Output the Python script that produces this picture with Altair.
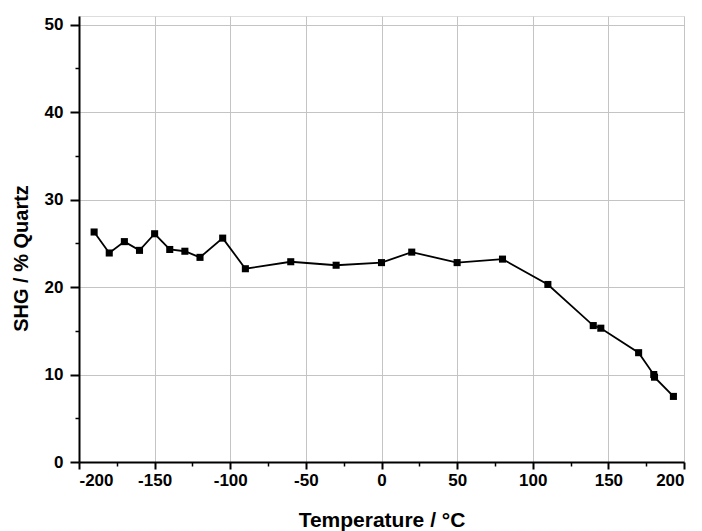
import altair as alt
import pandas as pd

temps = [-190, -180, -170, -160, -150, -140, -130, -120, -105, -90, -60, -30, 0, 20, 50, 80, 110, 140, 145, 170, 180, 180.5, 193]
shg = [26.3, 23.9, 25.2, 24.2, 26.1, 24.3, 24.1, 23.4, 25.6, 22.1, 22.9, 22.5, 22.8, 24.0, 22.8, 23.2, 20.3, 15.6, 15.3, 12.5, 10.0, 9.7, 7.5]
x_major = [-200, -150, -100, -50, 0, 50, 100, 150, 200]
x_minor = [-175, -125, -75, -25, 25, 75, 125, 175]
y_major = [0, 10, 20, 30, 40, 50]
y_minor = [5, 15, 25, 35, 45]

df = pd.DataFrame({"T": temps, "S": shg, "o": list(range(len(temps)))})

FONT = "Liberation Sans"
xs = alt.Scale(domain=[-200, 200], nice=False, zero=False)
ys = alt.Scale(domain=[0, 51], nice=False, zero=False)

base = alt.Chart(df)

common = dict(grid=True, gridColor="#c4c4c4", gridWidth=1,
              domainColor="black", domainWidth=2, tickColor="black", tickWidth=2,
              labelFont=FONT, labelFontSize=17, labelFontWeight="bold", labelColor="black",
              labelExpr="toString(datum.value)",
              titleFont=FONT, titleFontWeight="bold", titleColor="black")

main_axis_x = alt.Axis(values=x_major, title="Temperature / °C", orient="bottom",
                       tickSize=7, labelPadding=3, titlePadding=21, titleFontSize=21, **common)
main_axis_y = alt.Axis(values=y_major, title="SHG / % Quartz", orient="left",
                       tickSize=9, labelPadding=7, titleX=-52, titleY=242,
                       titleBaseline="alphabetic", titleFontSize=20, **common)

line = base.mark_line(color="black", strokeWidth=1.8).encode(
    x=alt.X("T:Q", scale=xs, axis=main_axis_x),
    y=alt.Y("S:Q", scale=ys, axis=main_axis_y),
    order="o:Q",
)
pts = base.mark_square(color="black", size=50, opacity=1).encode(
    x=alt.X("T:Q", scale=xs, axis=alt.Axis(values=x_minor, orient="bottom", labels=False, title=None,
                                           grid=False, domain=False, tickColor="black", tickWidth=1.5, tickSize=4)),
    y=alt.Y("S:Q", scale=ys, axis=alt.Axis(values=y_minor, orient="left", labels=False, title=None,
                                           grid=False, domain=False, tickColor="black", tickWidth=1.5, tickSize=4)),
)

chart = alt.layer(line, pts).resolve_axis(x="independent", y="independent").properties(
    width=605, height=446,
    autosize=alt.AutoSizeParams(type="none"),
    padding={"left": 71, "top": 8, "right": 10, "bottom": 69},
).configure_view(stroke=None).configure(background="white")

chart.save("out.html", embed_options={"renderer": "svg", "actions": False})
